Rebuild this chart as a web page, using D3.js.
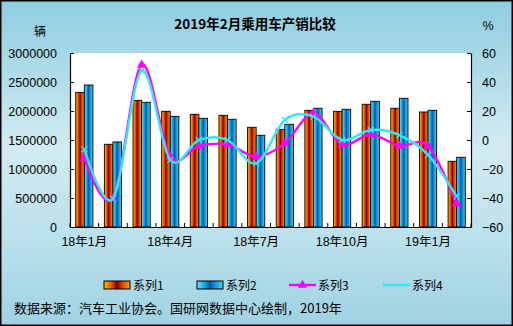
<!DOCTYPE html>
<html>
<head>
<meta charset="utf-8">
<script src="https://cdn.jsdelivr.net/npm/d3@7/dist/d3.min.js"></script>
<style>
  html, body { margin: 0; padding: 0; background: #fff; }
  svg { display: block; }
  text { font-family: "Liberation Sans", Arial, "Noto Sans CJK SC", sans-serif; }
  .cjk { font-family: "Noto Sans CJK SC", "Liberation Sans", sans-serif; }
</style>
</head>
<body>
<svg id="chart" width="513" height="326"></svg>
<script>
// Monthly passenger-car production / sales (units) and year-on-year growth (%)
const months = ["18年1月","18年2月","18年3月","18年4月","18年5月","18年6月","18年7月",
                "18年8月","18年9月","18年10月","18年11月","18年12月","19年1月","19年2月"];
const production = [2322000,1426000,2184000,1994000,1943000,1926000,1719000,
                    1684000,2012000,1994000,2116000,2047000,1983000,1133000];
const sales      = [2448000,1466000,2150000,1908000,1874000,1857000,1581000,
                    1771000,2047000,2029000,2167000,2219000,2012000,1202000];
const productionGrowth = [-12.6,-40.2,51.7,-11.5,-4.1,-3.0,-11.5,
                          -2.3,18.4,-3.0,3.9,-4.1,-4.1,-44.0];
const salesGrowth      = [-6.4,-40.5,47.8,-13.8,0.0,0.0,-16.1,
                          13.8,16.1,0.0,6.9,3.4,-10.3,-39.0];
const leftTicks  = [0,500000,1000000,1500000,2000000,2500000,3000000];
const rightTicks = [-60,-40,-20,0,20,40,60];
const xLabelMonths = ["18年1月","18年4月","18年7月","18年10月","19年1月"];
const seriesNames = ["系列1","系列2","系列3","系列4"];

const W = 513, H = 326;
const plot = { left: 70, right: 471, top: 53, bottom: 227 };
const svg = d3.select("#chart");
const defs = svg.append("defs");

// background gradient
const bg = defs.append("linearGradient").attr("id","bg").attr("x1",0).attr("y1",0).attr("x2",0).attr("y2",1);
[[0,"#8ecde0"],[0.45,"#d2ebf2"],[0.75,"#b9e0eb"],[1,"#9fd2e2"]].forEach(([o,c]) =>
  bg.append("stop").attr("offset",o).attr("stop-color",c));

// bar gradients (horizontal, dark centre)
function barGrad(id, stops) {
  const g = defs.append("linearGradient").attr("id",id).attr("x1",0).attr("y1",0).attr("x2",1).attr("y2",0);
  stops.forEach(([o,c]) => g.append("stop").attr("offset",o).attr("stop-color",c));
}
barGrad("gOrange", [[0,"#ffc400"],[0.3,"#e84a00"],[0.5,"#7a0000"],[0.7,"#e04000"],[1,"#ffa000"]]);
barGrad("gBlue",   [[0,"#6ee4fa"],[0.3,"#12a2e0"],[0.5,"#0058a8"],[0.7,"#1198da"],[1,"#55cff2"]]);

svg.append("rect").attr("x",0.75).attr("y",0.75).attr("width",W-1.5).attr("height",H-1.5)
  .attr("fill","url(#bg)").attr("stroke","#000").attr("stroke-width",1.5);

svg.append("rect").attr("x",plot.left).attr("y",plot.top)
  .attr("width",plot.right-plot.left).attr("height",plot.bottom-plot.top).attr("fill","#fff");

// scales
const x = d3.scaleBand().domain(months).range([plot.left, plot.right]).paddingInner(0.4).paddingOuter(0.2);
const xSub = d3.scaleBand().domain([0,1]).range([0, x.bandwidth()]);
const yL = d3.scaleLinear().domain([0,3000000]).range([plot.bottom, plot.top]);
const yR = d3.scaleLinear().domain([-60,60]).range([plot.bottom, plot.top]);
const cx = m => x(m) + x.bandwidth()/2;

// bars
const groups = svg.append("g").selectAll("g").data(months).join("g");
groups.append("rect")
  .attr("x", (m) => x(m) + xSub(0)).attr("width", xSub.bandwidth())
  .attr("y", (m,i) => yL(production[i])).attr("height", (m,i) => yL(0) - yL(production[i]))
  .attr("fill","url(#gOrange)").attr("stroke","#000").attr("stroke-width",0.9);
groups.append("rect")
  .attr("x", (m) => x(m) + xSub(1)).attr("width", xSub.bandwidth())
  .attr("y", (m,i) => yL(sales[i])).attr("height", (m,i) => yL(0) - yL(sales[i]))
  .attr("fill","url(#gBlue)").attr("stroke","#000").attr("stroke-width",0.9);

// axes
const fmt = d3.format("d");
const axL = svg.append("g").attr("transform",`translate(${plot.left},0)`)
  .call(d3.axisLeft(yL).tickValues(leftTicks).tickFormat(fmt).tickSizeInner(-4).tickSizeOuter(0).tickPadding(13));
const axR = svg.append("g").attr("transform",`translate(${plot.right},0)`)
  .call(d3.axisRight(yR).tickValues(rightTicks).tickFormat(fmt).tickSizeInner(-4).tickSizeOuter(0).tickPadding(11));
const axB = svg.append("g").attr("transform",`translate(0,${plot.bottom})`)
  .call(d3.axisBottom(x).tickValues(xLabelMonths).tickSize(0).tickPadding(10));
// category boundary ticks on the bottom axis
const step = x.step();
const bounds = d3.range(months.length + 1).map(i => plot.left + i * step);
svg.append("g").selectAll("line").data(bounds).join("line")
  .attr("x1", d => d).attr("x2", d => d).attr("y1", plot.bottom).attr("y2", plot.bottom - 4)
  .attr("stroke","#000").attr("stroke-width",1);

[axL, axR, axB].forEach(a => {
  a.selectAll("path.domain").attr("stroke","#000").attr("stroke-width",1.2);
  a.selectAll(".tick line").attr("stroke","#000");
  a.selectAll("text").attr("fill","#000").style("font-size","12.5px")
    .style("font-family","'Liberation Sans', Arial, 'Noto Sans CJK SC', sans-serif");
});
axB.selectAll("text").style("font-size","12.5px");

// growth lines (smoothed)
const line = (arr) => d3.line().x((d,i) => cx(months[i])).y(d => yR(d)).curve(d3.curveCatmullRom.alpha(0))(arr);
svg.append("path").attr("d", line(productionGrowth)).attr("fill","none")
  .attr("stroke","#ff00ff").attr("stroke-width",2.4);
svg.append("g").selectAll("path").data(productionGrowth).join("path")
  .attr("transform",(d,i) => `translate(${cx(months[i])},${yR(d)})`)
  .attr("d", d3.symbol(d3.symbolTriangle, 40)()).attr("fill","#ff00ff");

svg.append("path").attr("d", line(salesGrowth)).attr("fill","none")
  .attr("stroke","#33e6f2").attr("stroke-width",2.4);
svg.append("g").selectAll("path").data(salesGrowth).join("path")
  .attr("transform",(d,i) => `translate(${cx(months[i])},${yR(d)})`)
  .attr("d","M-3,-3L3,3M-3,3L3,-3").attr("stroke","#33e6f2").attr("stroke-width",1.2).attr("fill","none");

// titles
svg.append("text").attr("class","cjk").attr("x",255).attr("y",29).attr("text-anchor","middle")
  .style("font-size","13.5px").style("font-weight","bold").text("2019年2月乘用车产销比较");
svg.append("text").attr("class","cjk").attr("x",40).attr("y",36).attr("text-anchor","middle")
  .style("font-size","12px").text("辆");
svg.append("text").attr("x",488).attr("y",30).attr("text-anchor","middle")
  .style("font-size","12.5px").text("%");

// legend
const legY = 285;
const leg = svg.append("g");
const legItems = [
  { x: 104, kind: "bar", fill: "url(#gOrange)" },
  { x: 197, kind: "bar", fill: "url(#gBlue)" },
  { x: 289, kind: "line", color: "#ff00ff", marker: true },
  { x: 383, kind: "line", color: "#33e6f2" }
];
legItems.forEach((it, i) => {
  if (it.kind === "bar") {
    leg.append("rect").attr("x", it.x).attr("y", legY - 4).attr("width", 26).attr("height", 8)
      .attr("fill", it.fill).attr("stroke","#000").attr("stroke-width",1);
  } else {
    leg.append("line").attr("x1", it.x).attr("x2", it.x + 27).attr("y1", legY).attr("y2", legY)
      .attr("stroke", it.color).attr("stroke-width", 2.4);
    if (it.marker) leg.append("path").attr("transform",`translate(${it.x + 13.5},${legY})`)
      .attr("d", d3.symbol(d3.symbolTriangle, 36)()).attr("fill", it.color);
  }
  leg.append("text").attr("class","cjk").attr("x", it.x + 29).attr("y", legY + 4.5)
    .style("font-size","12px").text(seriesNames[i]);
});

// source note
svg.append("text").attr("class","cjk").attr("x",14).attr("y",313)
  .style("font-size","13px").text("数据来源：汽车工业协会。国研网数据中心绘制，2019年");
</script>
</body>
</html>
